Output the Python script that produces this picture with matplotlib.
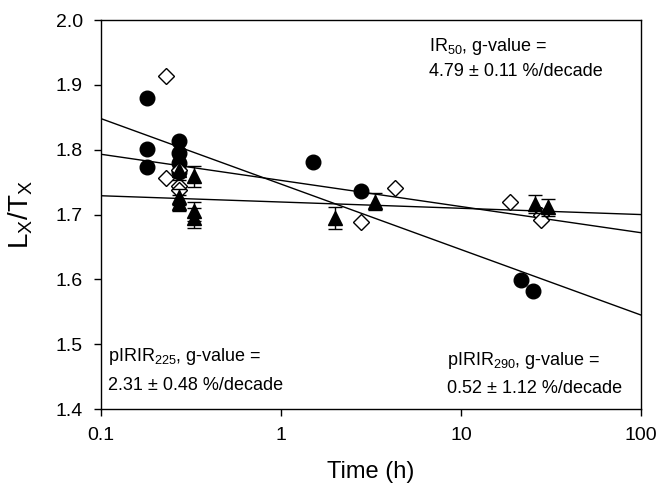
"""Fading test: Lx/Tx vs storage time for IR50, pIRIR225 and pIRIR290."""

import matplotlib
matplotlib.use("Agg")
import matplotlib.pyplot as plt

plt.rcParams["font.family"] = ["Liberation Sans", "DejaVu Sans"]
plt.rcParams["mathtext.fontset"] = "custom"
plt.rcParams["mathtext.rm"] = "Liberation Sans"

# IR50 (filled circles)
ir50_t = [0.18, 0.18, 0.18, 0.27, 0.27, 0.27, 0.27, 1.5, 2.8, 21.5, 25.2]
ir50_y = [1.880, 1.801, 1.773, 1.813, 1.795, 1.779, 1.766, 1.781, 1.736, 1.599, 1.582]

# pIRIR225 (open diamonds)
p225_t = [0.23, 0.23, 0.27, 0.27, 0.27, 2.8, 4.3, 18.7, 27.7, 27.7]
p225_y = [1.913, 1.757, 1.768, 1.744, 1.738, 1.689, 1.741, 1.719, 1.700, 1.692]

# pIRIR290 (filled triangles with error bars)
p290_t = [0.27, 0.27, 0.27, 0.33, 0.33, 0.33, 2.0, 3.35, 25.9, 30.5]
p290_y = [1.768, 1.727, 1.718, 1.759, 1.705, 1.695, 1.694, 1.720, 1.716, 1.711]
p290_err = [0.015, 0.012, 0.012, 0.016, 0.015, 0.015, 0.017, 0.013, 0.014, 0.013]

# fitted lines, read at the ends of the time axis
fit_t = [0.1, 100]
fit_ir50 = [1.848, 1.545]
fit_p225 = [1.793, 1.672]
fit_p290 = [1.729, 1.700]

fig = plt.figure(figsize=(6.58, 4.90), dpi=100)
ax = fig.add_axes([0.1535, 0.1653, 0.8205, 0.7937])

for fit in (fit_ir50, fit_p225, fit_p290):
    ax.plot(fit_t, fit, color="black", lw=1.0, zorder=1)

ax.plot(ir50_t, ir50_y, "o", color="black", markersize=10.5, zorder=3)
ax.plot(p225_t, p225_y, "D", markerfacecolor="white", markeredgecolor="black",
        markeredgewidth=1.0, markersize=8, zorder=4)
ax.errorbar(p290_t, p290_y, yerr=p290_err, fmt="^", color="black", markersize=9.5,
            ecolor="black", elinewidth=1.0, capsize=5, capthick=1.0, zorder=5)

ax.set_xscale("log")
ax.set_xlim(0.1, 100)
ax.set_ylim(1.4, 2.0)
ax.set_xticks([0.1, 1, 10, 100])
ax.set_xticklabels(["0.1", "1", "10", "100"])
ax.set_yticks([1.4, 1.5, 1.6, 1.7, 1.8, 1.9, 2.0])
ax.set_yticklabels(["1.4", "1.5", "1.6", "1.7", "1.8", "1.9", "2.0"])
ax.minorticks_off()
ax.tick_params(direction="out", length=5, width=1, labelsize=14, pad=8)
for sp in ax.spines.values():
    sp.set_linewidth(1.0)

ax.set_xlabel("Time (h)", fontsize=17, labelpad=12)
ax.set_ylabel(r"L$_\mathregular{X}$/T$_\mathregular{X}$", fontsize=20, labelpad=15)

notes = [
    (429, 46, r"IR$_{50}$, g-value ="),
    (429, 71, "4.79 \u00b1 0.11 %/decade"),
    (108, 356, r"pIRIR$_{225}$, g-value ="),
    (108, 385, "2.31 \u00b1 0.48 %/decade"),
    (447, 360, r"pIRIR$_{290}$, g-value ="),
    (447, 388, "0.52 \u00b1 1.12 %/decade"),
]
for px, py, txt in notes:
    ax.text(px, 490 - py, txt, transform=None, fontsize=13, va="center")

fig.savefig("out.png", dpi=100)
